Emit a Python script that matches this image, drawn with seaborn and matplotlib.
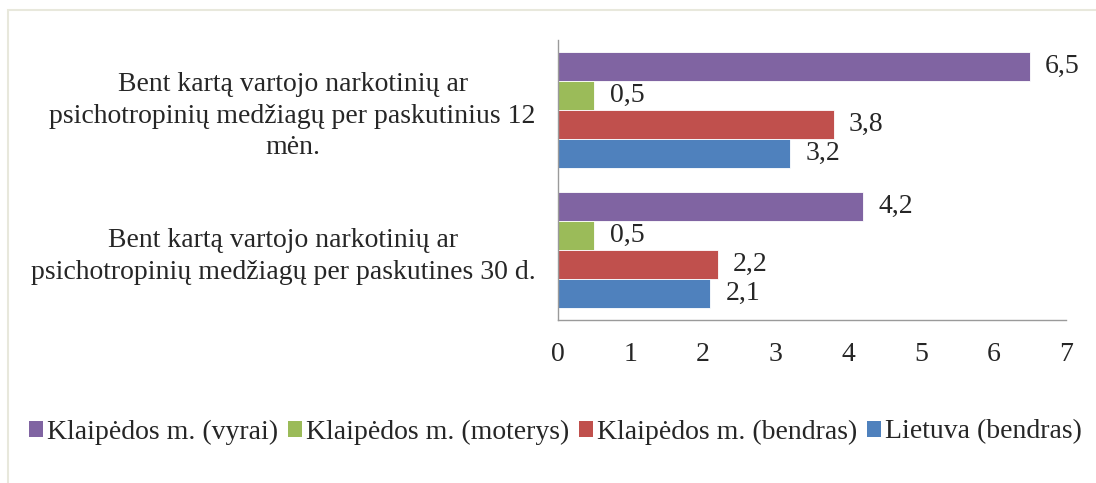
import matplotlib
matplotlib.use("Agg")
import matplotlib.pyplot as plt
import matplotlib.patches as mpatches
import pandas as pd
import seaborn as sns

# duomenys (nuskaityta nuo paveikslo)
categories = [
    "Bent kartą vartojo narkotinių ar\npsichotropinių medžiagų per paskutinius 12\nmėn.",
    "Bent kartą vartojo narkotinių ar\npsichotropinių medžiagų per paskutines 30 d.",
]
series = [
    "Klaipėdos m. (vyrai)",
    "Klaipėdos m. (moterys)",
    "Klaipėdos m. (bendras)",
    "Lietuva (bendras)",
]
vyrai = [6.5, 4.2]
moterys = [0.5, 0.5]
bendras_kl = [3.8, 2.2]
lietuva = [3.2, 2.1]
colors = ["#8064A2", "#9BBB59", "#C0504D", "#4F81BD"]
x_ticks = [0, 1, 2, 3, 4, 5, 6, 7]

rows = []
for name, vals in zip(series, [vyrai, moterys, bendras_kl, lietuva]):
    for cat, v in zip(categories, vals):
        rows.append({"kat": cat, "serija": name, "reiksme": v})
df = pd.DataFrame(rows)

sns.set_theme(style="white")
plt.rcParams["font.family"] = ["Liberation Serif", "DejaVu Serif"]
FS = 20

W, H = 1096, 483
fig = plt.figure(figsize=(W / 100, H / 100), dpi=100)
ax = fig.add_axes([558 / W, 1 - 320 / H, (1066 - 558) / W, 280 / H])

sns.barplot(
    data=df, y="kat", x="reiksme", hue="serija", orient="h",
    order=categories, hue_order=series, palette=colors,
    width=0.835, gap=0, ax=ax, legend=False,
    edgecolor="white", linewidth=0.6, saturation=1,
)

ax.set_xlim(0, 7)
ax.set_ylim(1.5, -0.5)
ax.set_xticks(x_ticks)
ax.set_xticklabels([str(t) for t in x_ticks], fontsize=FS)
ax.set_xlabel("")
ax.set_ylabel("")
ax.tick_params(axis="x", length=0, pad=16)
ax.tick_params(axis="y", length=0, pad=16, labelsize=FS)
for lbl in ax.get_yticklabels():
    lbl.set_multialignment("center")
    lbl.set_linespacing(1.35)

for side in ["top", "right"]:
    ax.spines[side].set_visible(False)
for side in ["left", "bottom"]:
    ax.spines[side].set_color("#9a9a9a")
    ax.spines[side].set_linewidth(1.0)

for cont in ax.containers:
    ax.bar_label(cont, labels=[f"{v:.1f}".replace(".", ",") for v in cont.datavalues],
                 padding=11, fontsize=FS)

handles = [mpatches.Patch(facecolor=c, edgecolor="none") for c in colors]
fig.legend(handles, series, loc="center left", bbox_to_anchor=(18 / W, 1 - 432 / H),
           ncol=4, frameon=False, fontsize=FS, handlelength=0.5, handleheight=0.5,
           handletextpad=0.15, columnspacing=0.35, borderaxespad=0)

# rėmelis aplink diagramą
fig.patches.append(mpatches.Rectangle((8 / W, -0.1), 1.2, 1 - 10 / H + 0.1,
                                      transform=fig.transFigure, fill=False,
                                      edgecolor="#e8e8dc", linewidth=1.5))

fig.savefig("out.png", dpi=100)
